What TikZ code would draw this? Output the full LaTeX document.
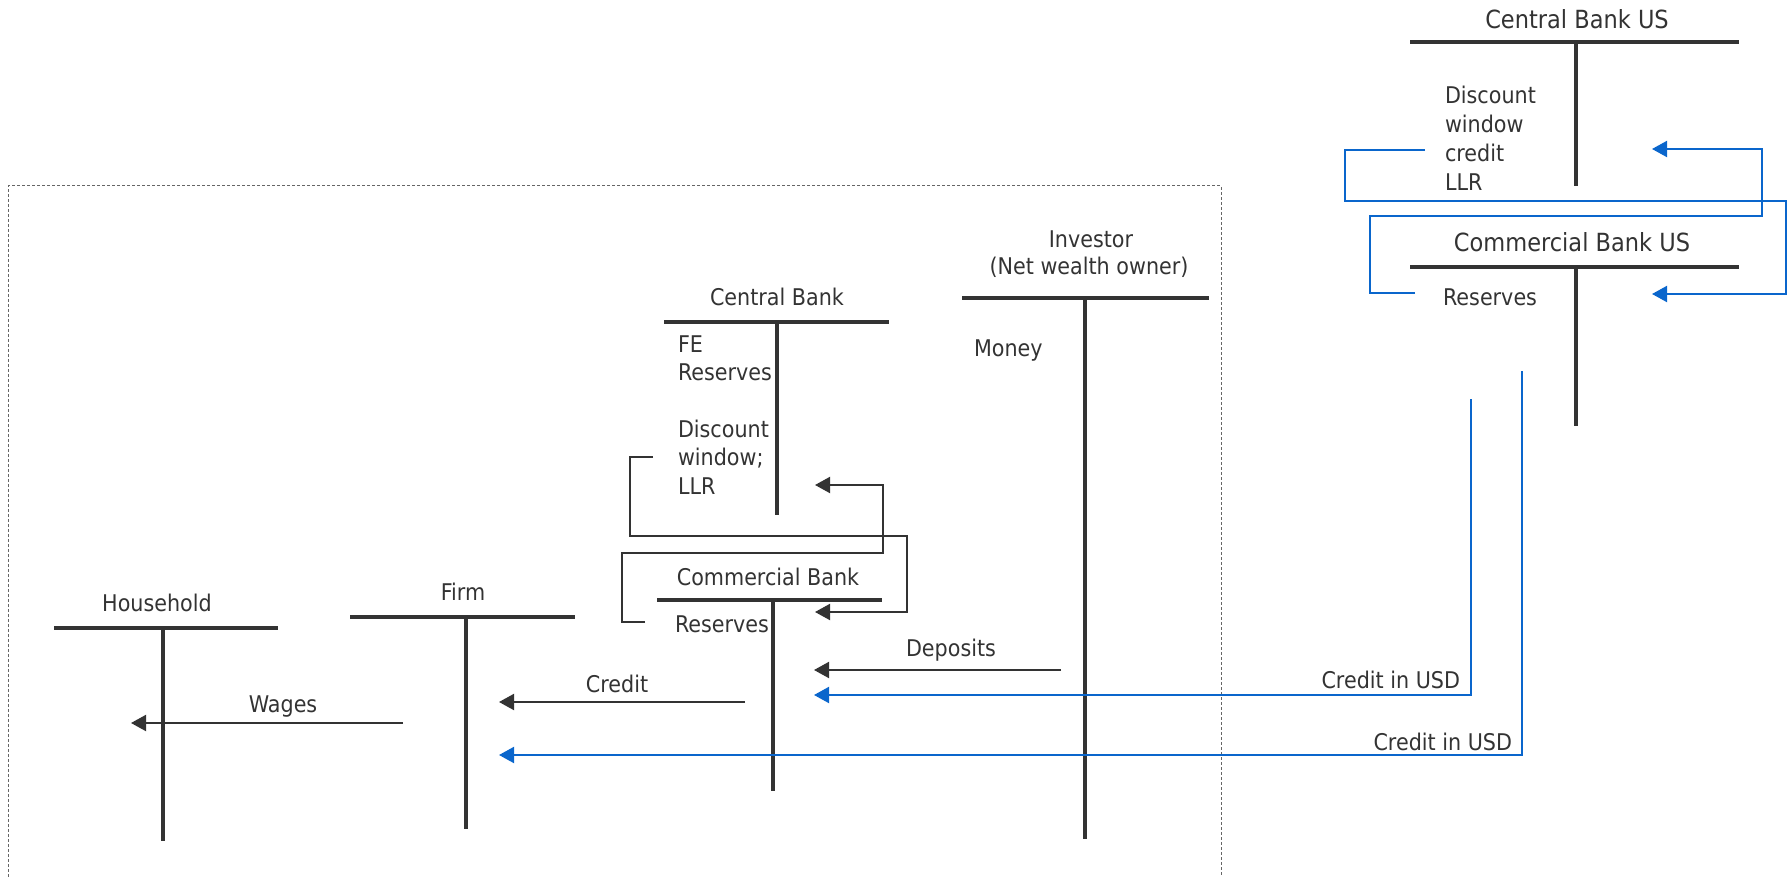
\documentclass[tikz,border=0pt]{standalone}
\usepackage{fontspec}
\setmainfont{DejaVu Sans}[FakeStretch=0.9]
\usetikzlibrary{arrows.meta}
\definecolor{ink}{HTML}{333333}
\definecolor{usblue}{RGB}{10,102,204}

\begin{document}
\begin{tikzpicture}[x=0.5pt,y=-0.5pt,
  every node/.style={inner sep=0pt, outer sep=0pt, text=ink},
  lbl/.style={font=\fontsize{11.5pt}{14pt}\selectfont},
  uslbl/.style={font=\fontsize{12.5pt}{15pt}\selectfont},
  tbar/.style={draw=ink, line width=1.9pt},
  flow/.style={draw=ink, line width=1pt, -{Triangle[length=7.5pt,width=8pt]}},
  usflow/.style={draw=usblue, line width=1pt, -{Triangle[length=7.5pt,width=8pt]}},
  frame/.style={draw=ink!75, line width=0.5pt, dash pattern=on 1.5pt off 1pt}]

\useasboundingbox (0,0) rectangle (1788,877);

% domestic economy frame (open at the bottom)
\draw[frame] (8,877) -- (8,186) -- (1221,186) -- (1221,877);

% ---------- T-accounts ----------
% Household
\node[lbl, anchor=base] (hh) at (157,611) {Household};
\draw[tbar] (54,628) -- (278,628) (163,628) -- (163,841);

% Firm
\node[lbl, anchor=base] (firm) at (463,600) {Firm};
\draw[tbar] (350,617) -- (575,617) (466,617) -- (466,829);

% Central Bank
\node[lbl, anchor=base] (cb) at (777,306) {Central Bank};
\draw[tbar] (664,322) -- (889,322) (777,322) -- (777,515);
\node[lbl, anchor=base west] (cb-fe1) at (678,352) {FE};
\node[lbl, anchor=base west] (cb-fe2) at (678,380) {Reserves};
\node[lbl, anchor=base west] (cb-dw1) at (678,437) {Discount};
\node[lbl, anchor=base west] (cb-dw2) at (678,465) {window;};
\node[lbl, anchor=base west] (cb-dw3) at (678,494) {LLR};

% Commercial Bank
\node[lbl, anchor=base] (bank) at (768,585) {Commercial Bank};
\draw[tbar] (657,600) -- (882,600) (773,600) -- (773,791);
\node[lbl, anchor=base west] (bank-res) at (675,632) {Reserves};

% Investor
\node[lbl, anchor=base] (inv1) at (1091,248) {Investor};
\node[lbl, anchor=base] (inv2) at (1089,275) {(Net wealth owner)};
\draw[tbar] (962,298) -- (1209,298) (1085,298) -- (1085,839);
\node[lbl, anchor=base west] (inv-money) at (974,356) {Money};

% Central Bank US
\node[uslbl, anchor=base] (cbus) at (1577,29) {Central Bank US};
\draw[tbar] (1410,42) -- (1739,42) (1576,42) -- (1576,186);
\node[lbl, anchor=base west] (cbus-dw1) at (1445,104) {Discount};
\node[lbl, anchor=base west] (cbus-dw2) at (1445,133) {window};
\node[lbl, anchor=base west] (cbus-dw3) at (1445,162) {credit};
\node[lbl, anchor=base west] (cbus-dw4) at (1445,191) {LLR};

% Commercial Bank US
\node[uslbl, anchor=base] (bankus) at (1572,252) {Commercial Bank US};
\draw[tbar] (1410,267) -- (1739,267) (1576,267) -- (1576,426);
\node[lbl, anchor=base west] (bankus-res) at (1443,306) {Reserves};

% ---------- flows ----------
\coordinate (wages-from) at (403,723);
\coordinate (wages-to) at (131,723);
\draw[flow] (wages-from) -- (wages-to);
\node[lbl, anchor=base] (wages) at (283,712) {Wages};

\coordinate (credit-from) at (745,702);
\coordinate (credit-to) at (499,702);
\draw[flow] (credit-from) -- (credit-to);
\node[lbl, anchor=base] (credit) at (617,692) {Credit};

\coordinate (dep-from) at (1061,670);
\coordinate (dep-to) at (814,670);
\draw[flow] (dep-from) -- (dep-to);
\node[lbl, anchor=base] (deposits) at (951,656) {Deposits};

% domestic discount window loop
\coordinate (dw-out) at (653,457);
\coordinate (res-in) at (815,612);
\draw[flow] (dw-out) -- (630,457) -- (630,536) -- (907,536) -- (907,612) -- (res-in);

\coordinate (res-out) at (645,622);
\coordinate (dw-in) at (815,485);
\draw[flow] (res-out) -- (622,622) -- (622,553) -- (883,553) -- (883,485) -- (dw-in);

% US discount window loop
\coordinate (usdw-out) at (1425,150);
\coordinate (usres-in) at (1652,294);
\draw[usflow] (usdw-out) -- (1345,150) -- (1345,201) -- (1786,201) -- (1786,294) -- (usres-in);

\coordinate (usres-out) at (1415,293);
\coordinate (usdw-in) at (1652,149);
\draw[usflow] (usres-out) -- (1370,293) -- (1370,216) -- (1762,216) -- (1762,149) -- (usdw-in);

% dollar credit into the domestic economy
\coordinate (usd1-from) at (1471,399);
\coordinate (usd1-to) at (814,695);
\draw[usflow] (usd1-from) |- (usd1-to);
\node[lbl, anchor=base east] (usd1) at (1460,688) {Credit in USD};

\coordinate (usd2-from) at (1522,371);
\coordinate (usd2-to) at (499,755);
\draw[usflow] (usd2-from) |- (usd2-to);
\node[lbl, anchor=base east] (usd2) at (1512,750) {Credit in USD};

\end{tikzpicture}
\end{document}
